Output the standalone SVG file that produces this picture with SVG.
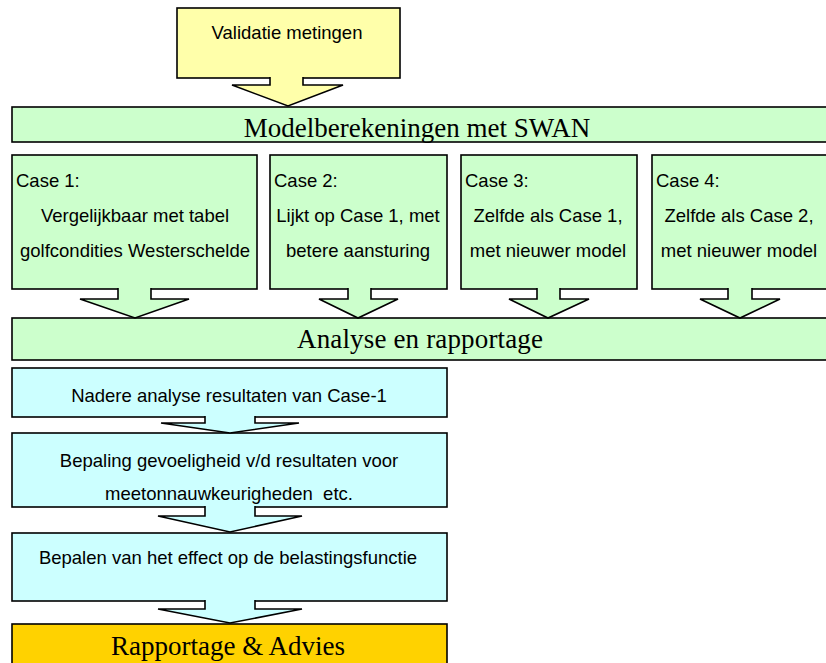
<svg xmlns="http://www.w3.org/2000/svg" width="826" height="663" viewBox="0 0 826 663">
<style>
.box{stroke:#000;stroke-width:1.6}
.y{fill:#FFFFAA}.g{fill:#CCFFCC}.c{fill:#CCFFFF}.o{fill:#FFD200}
.arr{stroke:#000;stroke-width:1.6;stroke-linejoin:miter}
.s{font-family:"Liberation Sans",Arial,sans-serif;font-size:18.5px;fill:#000}
.t{font-family:"Liberation Serif","Times New Roman",serif;font-size:27px;fill:#000}
.m{text-anchor:middle}
</style>
<rect width="826" height="663" fill="#fff"/>
<g id="validatie">
<rect class="box y" x="177" y="8" width="223" height="70"/>
<text class="s m" x="287" y="39">Validatie metingen</text>
</g>
<g id="modelberekeningen">
<rect class="box g" x="12" y="107" width="830" height="35"/>
<text class="t m" x="417" y="137">Modelberekeningen met SWAN</text>
</g>
<g id="case1">
<rect class="box g" x="12" y="155" width="245" height="134"/>
<text class="s" x="16" y="187">Case 1:</text>
<text class="s m" x="135" y="222">Vergelijkbaar met tabel</text>
<text class="s m" x="135" y="257">golfcondities Westerschelde</text>
</g>
<g id="case2">
<rect class="box g" x="270" y="155" width="177" height="134"/>
<text class="s" x="274" y="187">Case 2:</text>
<text class="s m" x="358" y="222">Lijkt op Case 1, met</text>
<text class="s m" x="358" y="257">betere aansturing</text>
</g>
<g id="case3">
<rect class="box g" x="461" y="155" width="176" height="134"/>
<text class="s" x="465" y="187">Case 3:</text>
<text class="s m" x="548" y="222">Zelfde als Case 1,</text>
<text class="s m" x="548" y="257">met nieuwer model</text>
</g>
<g id="case4">
<rect class="box g" x="652" y="155" width="190" height="134"/>
<text class="s" x="656" y="187">Case 4:</text>
<text class="s m" x="739" y="222">Zelfde als Case 2,</text>
<text class="s m" x="739" y="257">met nieuwer model</text>
</g>
<g id="analyse">
<rect class="box g" x="12" y="318" width="830" height="42"/>
<text class="t m" x="420" y="348" textLength="246" lengthAdjust="spacing">Analyse en rapportage</text>
</g>
<g id="nadere">
<rect class="box c" x="12" y="368" width="435" height="49"/>
<text class="s m" x="229" y="402">Nadere analyse resultaten van Case-1</text>
</g>
<g id="gevoeligheid">
<rect class="box c" x="12" y="433" width="435" height="74"/>
<text class="s m" x="229" y="467">Bepaling gevoeligheid v/d resultaten voor</text>
<text class="s m" x="229" y="500" xml:space="preserve">meetonnauwkeurigheden  etc.</text>
</g>
<g id="belasting">
<rect class="box c" x="12" y="533" width="435" height="68"/>
<text class="s m" x="228" y="564">Bepalen van het effect op de belastingsfunctie</text>
</g>
<g id="rapportage">
<rect class="box o" x="12" y="624" width="435" height="60"/>
<text class="t m" x="228" y="655">Rapportage &amp; Advies</text>
</g>
<g id="connectors">
<path class="arr y" d="M270,77 V85 H232 L288,106 L343,85 H303 V77"/>
<path class="arr g" d="M118,288 V299 H80 L135,318 L189,299 H151 V288"/>
<path class="arr g" d="M348,288 V299 H319 L358,318 L398,299 H371 V288"/>
<path class="arr g" d="M537,288 V299 H509 L548,318 L589,299 H560 V288"/>
<path class="arr g" d="M728,288 V299 H700 L740,318 L780,299 H752 V288"/>
<path class="arr c" d="M205,416 V423 H161 L230,433 L299,423 H255 V416"/>
<path class="arr c" d="M205,506 V516 H158 L230,532 L302,516 H255 V506"/>
<path class="arr c" d="M205,600 V609 H158 L230,623 L302,609 H255 V600"/>
</g>
</svg>
